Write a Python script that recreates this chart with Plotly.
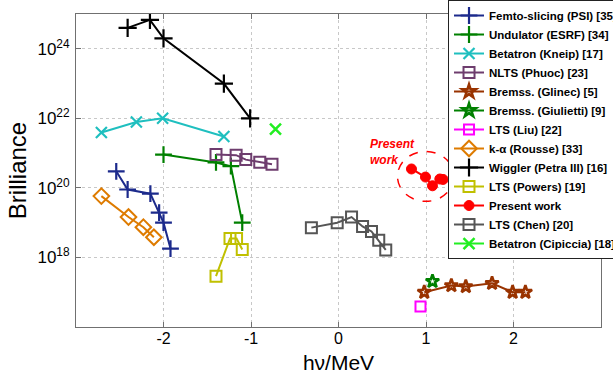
import plotly.graph_objects as go

# ---- data (x = hν/MeV, y = brilliance) ----
femto_x = [-2.54, -2.41, -2.15, -2.05, -2.00, -1.92]
femto_y = [3.0e20, 9.0e19, 6.8e19, 1.95e19, 1.0e19, 1.8e18]

undulator_x = [-2.00, -1.40, -1.23, -1.10]
undulator_y = [9.1e20, 5.4e20, 4.2e20, 1.0e19]

kneip_x = [-2.71, -2.31, -2.01, -1.31]
kneip_y = [3.9e21, 7.8e21, 1.0e22, 3.0e21]

phuoc_x = [-1.40, -1.17, -1.06, -0.90, -0.76]
phuoc_y = [9.1e20, 8.7e20, 6.5e20, 5.5e20, 4.8e20]

glinec_x = [0.98, 1.29, 1.455, 1.755, 1.99, 2.136]
glinec_y = [1.0e17, 1.55e17, 1.45e17, 1.8e17, 1.0e17, 1.0e17]

giulietti_x = [1.074]
giulietti_y = [2.05e17]

liu_x = [0.937]
liu_y = [3.9e16]

rousse_x = [-2.71, -2.40, -2.23, -2.11]
rousse_y = [5.8e19, 1.45e19, 7.4e18, 3.8e18]

wiggler_x = [-2.41, -2.155, -2.00, -1.31, -1.01]
wiggler_y = [4.0e24, 6.8e24, 2.0e24, 1.0e23, 1.0e22]

powers_x = [-1.40, -1.24, -1.165, -1.10]
powers_y = [2.9e17, 3.5e18, 3.5e18, 1.7e18]

present_x = [0.834, 0.994, 1.074, 1.158, 1.195]
present_y = [3.5e20, 2.05e20, 1.15e20, 1.8e20, 1.75e20]

chen_x = [-0.31, -0.015, 0.149, 0.275, 0.377, 0.46, 0.54]
chen_y = [7.2e18, 1.0e19, 1.45e19, 7.8e18, 5.6e18, 3.1e18, 1.65e18]

cipiccia_x = [-0.72]
cipiccia_y = [4.9e21]

x_ticks = [-2, -1, 0, 1, 2]
x_ticktext = ["-2", "-1", "0", "1", "2"]
y_ticks = [1e18, 1e20, 1e22, 1e24]
y_ticktext = ["10<sup>18</sup>", "10<sup>20</sup>", "10<sup>22</sup>", "10<sup>24</sup>"]

# circle around present work (data units)
circle_x = [0.674, 1.32]
circle_y = [4.1e19, 1.12e21]

series = [
    ("Femto-slicing (PSI) [35]", femto_x, femto_y, "#1c2a8c", "cross-thin-open", 12, 2.2),
    ("Undulator (ESRF) [34]", undulator_x, undulator_y, "#008000", "cross-thin-open", 12, 2.2),
    ("Betatron (Kneip) [17]", kneip_x, kneip_y, "#1fbfbf", "x-thin-open", 11, 2.2),
    ("NLTS (Phuoc) [23]", phuoc_x, phuoc_y, "#6e3d6e", "square-open", 11, 2),
    ("Bremss. (Glinec) [5]", glinec_x, glinec_y, "#993300", "star-open", 10, 2.6),
    ("Bremss. (Giulietti) [9]", giulietti_x, giulietti_y, "#008000", "star-open", 10, 2.6),
    ("LTS (Liu) [22]", liu_x, liu_y, "#ff00ff", "square-open", 10, 2),
    ("k-\u03b1 (Rousse) [33]", rousse_x, rousse_y, "#de7b00", "diamond-open", 12, 2),
    ("Wiggler (Petra III) [16]", wiggler_x, wiggler_y, "#000000", "cross-thin-open", 13, 2.2),
    ("LTS (Powers) [19]", powers_x, powers_y, "#c0c000", "square-open", 11, 2),
    ("Present work", present_x, present_y, "#ff0000", "circle", 10, 1),
    ("LTS (Chen) [20]", chen_x, chen_y, "#555555", "square-open", 11, 2),
    ("Betatron (Cipiccia) [18]", cipiccia_x, cipiccia_y, "#22ee22", "x-thin-open", 11, 2.5),
]

fig = go.Figure()
for name, xs, ys, col, sym, size, mlw in series:
    fig.add_trace(go.Scatter(
        x=xs, y=ys, name=name, mode="lines+markers",
        line=dict(color=col, width=2),
        marker=dict(symbol=sym, size=size, color=col, line=dict(color=col, width=mlw)),
    ))

fig.add_shape(type="circle", xref="x", yref="y",
              x0=circle_x[0], x1=circle_x[1], y0=circle_y[0], y1=circle_y[1],
              line=dict(color="#ff0000", width=1.5, dash="dash"))

fig.add_annotation(x=0.34, y=21.04, xref="x", yref="y", text="<b><i>Present<br>work</i></b>",
                   showarrow=False, xanchor="left", yanchor="middle", align="left",
                   font=dict(color="#ff0000", size=12, family="Liberation Sans"))

axis_common = dict(showline=True, linecolor="#707070", linewidth=1, mirror="allticks",
                   ticks="inside", ticklen=5, tickcolor="#707070",
                   showgrid=True, gridcolor="#c8c8c8", griddash="dot", gridwidth=1,
                   zeroline=False, automargin=False)

fig.update_xaxes(range=[-3, 3], tickvals=x_ticks, ticktext=x_ticktext,
                 tickfont=dict(size=16, color="black"), ticklabelstandoff=-3,
                 title=dict(text="h\u03bd/MeV", font=dict(size=21, color="black"), standoff=9),
                 **axis_common)
fig.update_yaxes(type="log", range=[16, 25], tickvals=y_ticks, ticktext=y_ticktext,
                 tickfont=dict(size=17, color="black"), ticklabelstandoff=2,
                 title=dict(text="Brilliance", font=dict(size=24, color="black"), standoff=4),
                 **axis_common)

fig.update_layout(
    width=613, height=381,
    margin=dict(l=76, r=12, t=14, b=54, autoexpand=False),
    paper_bgcolor="white", plot_bgcolor="white",
    font=dict(family="Liberation Sans, Arial, sans-serif", color="black"),
    legend=dict(x=0.7086, y=1.0447, xanchor="left", yanchor="top",
                bgcolor="white", bordercolor="#222222", borderwidth=1,
                font=dict(size=11.5, weight="bold", color="black"),
                itemwidth=30, tracegroupgap=0, maxheight=381),
    showlegend=True,
)

fig.write_html("out.html", config={"displayModeBar": False},
               post_script="document.body.style.margin='0';document.body.style.padding='0';")
